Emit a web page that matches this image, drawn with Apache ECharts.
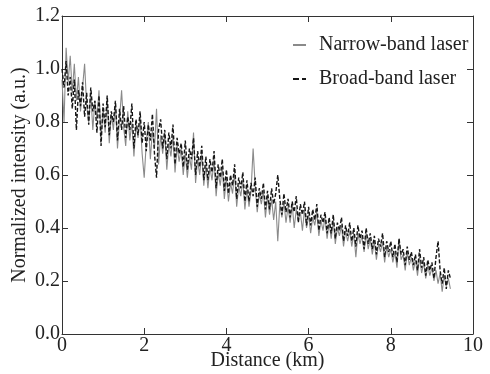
<!DOCTYPE html>
<html>
<head>
<meta charset="utf-8">
<script src="https://cdn.jsdelivr.net/npm/echarts@6/dist/echarts.min.js"></script>
<style>html,body{margin:0;padding:0;background:#fff}#c{width:490px;height:374px}</style>
</head>
<body>
<div id="c"></div>
<script>
// Sampling step of the traces (km)
const step = 0.05;
const xTicks = [0, 2, 4, 6, 8, 10];
const yTicks = [0.0, 0.2, 0.4, 0.6, 0.8, 1.0, 1.2];
const seriesNames = ['Narrow-band laser', 'Broad-band laser'];

// Narrow-band laser (grey, solid)
const narrowBand = [
  0.96, 0.80, 1.08, 0.95, 1.05, 0.91, 1.02, 0.88, 0.97, 0.84,
  0.93, 1.02, 0.86, 0.80, 0.91, 0.77, 0.88, 0.81, 0.92, 0.74,
  0.85, 0.76, 0.89, 0.72, 0.83, 0.77, 0.87, 0.70, 0.81, 0.92,
  0.78, 0.71, 0.84, 0.73, 0.80, 0.67, 0.79, 0.74, 0.82, 0.68,
  0.59, 0.72, 0.80, 0.66, 0.77, 0.70, 0.85, 0.64, 0.75, 0.68,
  0.76, 0.62, 0.72, 0.67, 0.75, 0.61, 0.71, 0.65, 0.70, 0.60,
  0.68, 0.59, 0.67, 0.62, 0.76, 0.57, 0.66, 0.60, 0.68, 0.56,
  0.64, 0.55, 0.63, 0.58, 0.66, 0.52, 0.61, 0.56, 0.63, 0.51,
  0.59, 0.50, 0.57, 0.53, 0.61, 0.48, 0.56, 0.52, 0.58, 0.47,
  0.55, 0.48, 0.54, 0.70, 0.56, 0.46, 0.53, 0.49, 0.54, 0.44,
  0.52, 0.45, 0.51, 0.43, 0.50, 0.35, 0.49, 0.44, 0.50, 0.42,
  0.48, 0.42, 0.49, 0.40, 0.47, 0.43, 0.46, 0.39, 0.47, 0.40,
  0.45, 0.38, 0.44, 0.41, 0.46, 0.37, 0.43, 0.39, 0.44, 0.36,
  0.42, 0.36, 0.43, 0.34, 0.40, 0.37, 0.41, 0.33, 0.39, 0.35,
  0.39, 0.33, 0.38, 0.29, 0.38, 0.34, 0.37, 0.31, 0.38, 0.32,
  0.36, 0.30, 0.35, 0.28, 0.34, 0.31, 0.35, 0.27, 0.33, 0.29,
  0.32, 0.27, 0.31, 0.25, 0.36, 0.28, 0.30, 0.24, 0.31, 0.26,
  0.29, 0.24, 0.28, 0.22, 0.29, 0.23, 0.27, 0.21, 0.26, 0.22,
  0.25, 0.20, 0.24, 0.19, 0.23, 0.16, 0.22, 0.18, 0.21, 0.17
];

// Broad-band laser (black, dashed)
const broadBand = [
  1.00, 0.93, 1.03, 0.90, 0.97, 0.85, 0.96, 0.77, 0.92, 0.86,
  0.95, 0.82, 0.91, 0.79, 0.93, 0.84, 0.88, 0.76, 0.90, 0.71,
  0.87, 0.78, 0.90, 0.75, 0.84, 0.80, 0.88, 0.73, 0.85, 0.77,
  0.86, 0.74, 0.82, 0.77, 0.87, 0.70, 0.81, 0.75, 0.84, 0.72,
  0.80, 0.69, 0.79, 0.73, 0.83, 0.68, 0.59, 0.77, 0.81, 0.70,
  0.77, 0.66, 0.76, 0.70, 0.79, 0.64, 0.74, 0.68, 0.72, 0.63,
  0.73, 0.62, 0.70, 0.66, 0.74, 0.60, 0.69, 0.63, 0.71, 0.58,
  0.67, 0.58, 0.66, 0.61, 0.69, 0.55, 0.64, 0.59, 0.66, 0.54,
  0.62, 0.53, 0.60, 0.56, 0.64, 0.51, 0.59, 0.55, 0.61, 0.50,
  0.58, 0.50, 0.57, 0.52, 0.59, 0.48, 0.55, 0.51, 0.57, 0.47,
  0.54, 0.47, 0.55, 0.49, 0.53, 0.60, 0.51, 0.45, 0.53, 0.46,
  0.51, 0.44, 0.50, 0.46, 0.52, 0.42, 0.49, 0.45, 0.50, 0.41,
  0.48, 0.41, 0.47, 0.43, 0.49, 0.39, 0.45, 0.42, 0.46, 0.38,
  0.44, 0.38, 0.45, 0.36, 0.42, 0.39, 0.44, 0.35, 0.41, 0.37,
  0.42, 0.35, 0.40, 0.33, 0.41, 0.36, 0.39, 0.32, 0.40, 0.34,
  0.38, 0.32, 0.37, 0.30, 0.36, 0.33, 0.38, 0.29, 0.35, 0.31,
  0.35, 0.29, 0.34, 0.27, 0.36, 0.30, 0.32, 0.26, 0.33, 0.28,
  0.31, 0.26, 0.30, 0.24, 0.32, 0.25, 0.29, 0.22, 0.28, 0.24,
  0.27, 0.21, 0.29, 0.35, 0.24, 0.19, 0.25, 0.17, 0.24, 0.21
];

const toPairs = arr => arr.map((v, i) => [+(i * step).toFixed(2), v]);

const font = '"Liberation Serif", "Times New Roman", serif';
const axisColor = '#333';
const grey = '#8a8a8a';
const black = '#161616';

const chart = echarts.init(document.getElementById('c'), null, {renderer: 'canvas'});
const baseX = {
  type: 'value', min: xTicks[0], max: xTicks[xTicks.length - 1], interval: 2,
  splitLine: {show: false},
  axisLine: {show: true, onZero: false, lineStyle: {color: axisColor, width: 1}},
  axisTick: {show: true, inside: true, length: 6, lineStyle: {color: axisColor}}
};
const baseY = {
  type: 'value', min: yTicks[0], max: yTicks[yTicks.length - 1], interval: 0.2,
  splitLine: {show: false},
  axisLine: {show: true, onZero: false, lineStyle: {color: axisColor, width: 1}},
  axisTick: {show: true, inside: true, length: 6, lineStyle: {color: axisColor}}
};

chart.setOption({
  animation: false,
  backgroundColor: '#fff',
  grid: {left: 62, right: 17, top: 16, bottom: 40, containLabel: false, outerBoundsMode: 'none'},
  legend: {
    orient: 'vertical', left: 288, top: 30, itemGap: 14, itemWidth: 13, itemHeight: 2,
    textStyle: {fontFamily: font, fontSize: 20, color: '#222', padding: [0, 0, 0, 8]},
    data: [
      {name: seriesNames[0], icon: 'path://M0,0H13V2H0Z', itemStyle: {color: grey}},
      {name: seriesNames[1], icon: 'path://M0,0H6V2H0Z M9,0H13V2H9Z', itemStyle: {color: black}}
    ]
  },
  xAxis: [
    Object.assign({}, baseX, {
      position: 'bottom',
      name: 'Distance (km)', nameLocation: 'middle', nameGap: 17, nameMoveOverlap: false,
      nameTextStyle: {fontFamily: font, fontSize: 20, color: '#222'},
      axisLabel: {fontFamily: font, fontSize: 20, color: '#222', margin: 2,
        formatter: v => String(v)}
    }),
    Object.assign({}, baseX, {position: 'top', axisLabel: {show: false}})
  ],
  yAxis: [
    Object.assign({}, baseY, {
      position: 'left',
      name: 'Normalized intensity (a.u.)', nameLocation: 'middle', nameGap: 32, nameMoveOverlap: false,
      nameTextStyle: {fontFamily: font, fontSize: 20, color: '#222'},
      axisLabel: {fontFamily: font, fontSize: 20, color: '#222', margin: 2,
        formatter: v => v.toFixed(1)}
    }),
    Object.assign({}, baseY, {position: 'right', axisLabel: {show: false}})
  ],
  series: [
    {
      name: seriesNames[0], type: 'line', showSymbol: false, symbol: 'none',
      data: toPairs(narrowBand),
      lineStyle: {color: grey, width: 1.1},
      itemStyle: {color: grey}, z: 2
    },
    {
      name: seriesNames[1], type: 'line', showSymbol: false, symbol: 'none',
      data: toPairs(broadBand),
      lineStyle: {color: black, width: 1.4, type: [4, 2]},
      itemStyle: {color: black}, z: 3
    }
  ]
});
</script>
</body>
</html>
